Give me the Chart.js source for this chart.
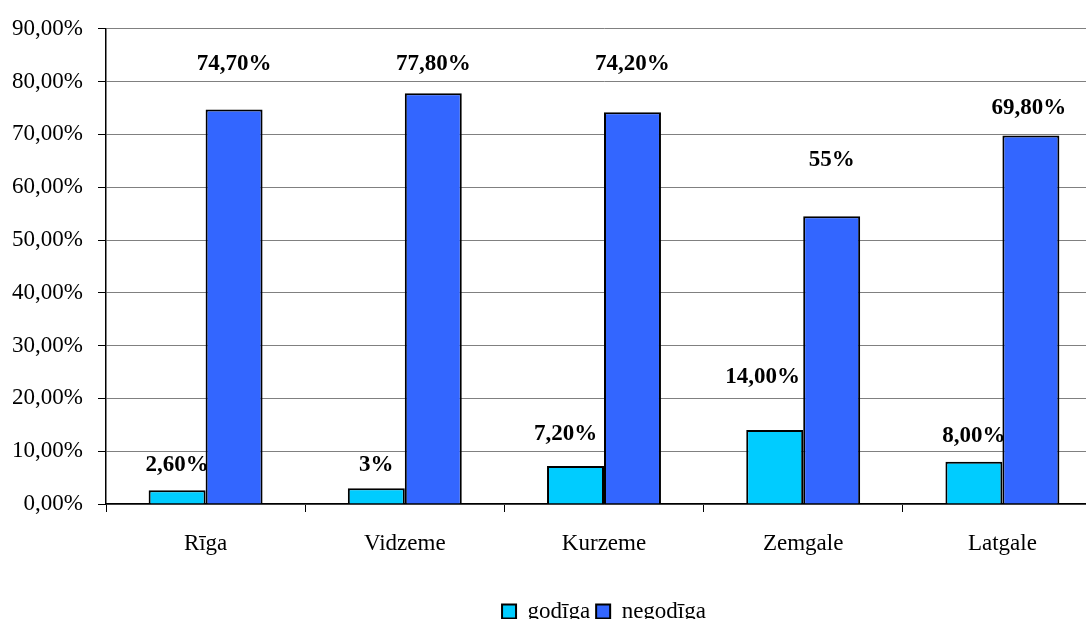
<!DOCTYPE html>
<html><head><meta charset="utf-8">
<script src="https://cdn.jsdelivr.net/npm/chart.js@4.4.0/dist/chart.umd.min.js"></script>
<style>html,body{margin:0;padding:0;overflow:hidden;background:#fff;width:1086px;height:619px}canvas{display:block}</style>
</head><body>
<canvas id="c" width="1102" height="619"></canvas>
<script>
const categories = ['Rīga', 'Vidzeme', 'Kurzeme', 'Zemgale', 'Latgale'];
const seriesNames = ['godīga', 'negodīga'];
const godigaValues = [2.6, 3, 7.2, 14, 8];
const negodigaValues = [74.7, 77.8, 74.2, 54.5, 69.8];
const godigaLabels = ['2,60%', '3%', '7,20%', '14,00%', '8,00%'];
const negodigaLabels = ['74,70%', '77,80%', '74,20%', '55%', '69,80%'];
const yTickValues = [0, 10, 20, 30, 40, 50, 60, 70, 80, 90];

const FONT = '"Liberation Serif", "Times New Roman", serif';

const valueLabels = {
  id: 'valueLabels',
  afterDatasetsDraw(chart, args, opts) {
    const ctx = chart.ctx;
    ctx.save();
    ctx.font = 'bold 23px ' + FONT;
    ctx.fillStyle = '#000';
    ctx.textAlign = 'center';
    ctx.textBaseline = 'middle';
    chart.data.datasets.forEach((ds, di) => {
      const meta = chart.getDatasetMeta(di);
      meta.data.forEach((bar, i) => {
        ctx.fillText(ds.valueLabels[i], bar.x + opts.shift[di][i], bar.y - opts.lift[di][i]);
      });
    });
    ctx.restore();
  }
};

// centre the legend under the plot area rather than the whole (cropped) canvas
const legendCentre = {
  id: 'legendCentre',
  afterLayout(chart) {
    const lg = chart.legend, ca = chart.chartArea;
    if (!lg) return;
    const shift = (ca.left + ca.right) / 2 - (lg.left + lg.right) / 2;
    lg.left += shift;
    lg.right += shift;
  }
};

new Chart(document.getElementById('c'), {
  type: 'bar',
  data: {
    labels: categories,
    datasets: [
      { label: seriesNames[0], data: godigaValues, valueLabels: godigaLabels,
        backgroundColor: '#00CCFF', borderColor: '#000', borderWidth: 2 },
      { label: seriesNames[1], data: negodigaValues, valueLabels: negodigaLabels,
        backgroundColor: '#3366FF', borderColor: '#000', borderWidth: 2 }
    ]
  },
  options: {
    responsive: false,
    animation: false,
    events: [],
    layout: { padding: { left: 0, right: 0, top: 27, bottom: 0 } },
    datasets: { bar: { categoryPercentage: 0.572, barPercentage: 1.0 } },
    scales: {
      x: {
        grid: { display: true, drawOnChartArea: false, drawTicks: true, tickLength: 8, color: '#000', offset: true },
        border: { color: '#000', width: 1.5 },
        ticks: { font: { family: FONT, size: 23 }, color: '#000', padding: 18 },
        afterFit(s) { s.height = 90; }
      },
      y: {
        min: 0, max: 90,
        afterBuildTicks(s) { s.ticks = yTickValues.map(v => ({ value: v })); },
        grid: { color: '#808080', lineWidth: 1, tickLength: 8, tickColor: '#000' },
        border: { color: '#000', width: 1.5 },
        ticks: {
          font: { family: FONT, size: 23 }, color: '#000', padding: 15,
          callback: v => v.toFixed(2).replace('.', ',') + '%'
        },
        afterFit(s) { s.width = 106; }
      }
    },
    plugins: {
      legend: {
        position: 'bottom',
        maxHeight: 25,
        labels: { boxWidth: 14, boxHeight: 14, padding: 6, color: '#000', font: { family: FONT, size: 23 } }
      },
      tooltip: { enabled: false },
      valueLabels: {
        lift: [[25, 23, 32, 53, 26], [46, 29, 48, 56, 27]],
        shift: [[0, 0, -10, -12, 0], [0, 0, 0, 0, -2]]
      }
    }
  },
  plugins: [valueLabels, legendCentre]
});
</script>
</body></html>
